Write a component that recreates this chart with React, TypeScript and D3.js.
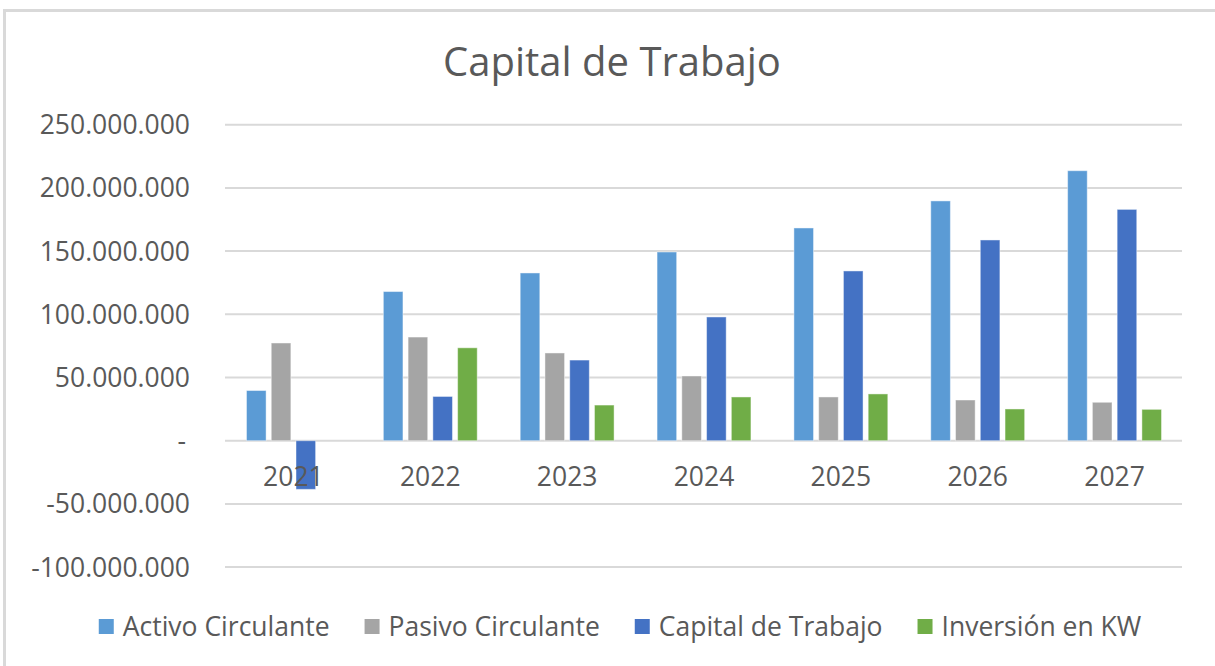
import React from "react";
import * as d3 from "d3";

const years = ["2021", "2022", "2023", "2024", "2025", "2026", "2027"];
const seriesNames = ["Activo Circulante", "Pasivo Circulante", "Capital de Trabajo", "Inversión en KW"];
const activo = [39.7e6, 118e6, 132.7e6, 149.3e6, 168.3e6, 189.7e6, 213.6e6];
const pasivo = [77.3e6, 82e6, 69.4e6, 51.2e6, 34.6e6, 32.2e6, 30.4e6];
const capital = [-38.5e6, 35e6, 63.8e6, 97.9e6, 134.3e6, 158.8e6, 183e6];
const inversion = [0, 73.5e6, 28.2e6, 34.6e6, 37e6, 25.1e6, 24.8e6];
const colors = ["#5B9BD5", "#A5A5A5", "#4472C4", "#70AD47"];
const tickValues = [250e6, 200e6, 150e6, 100e6, 50e6, 0, -50e6, -100e6];
const tickLabels = ["250.000.000", "200.000.000", "150.000.000", "100.000.000", "50.000.000", "-", "-50.000.000", "-100.000.000"];
const title = "Capital de Trabajo";

const W = 1215;
const H = 666;
const FONT = "'Open Sans', 'Noto Sans', sans-serif";
const TEXT = "#595959";
const GRID = "#d9d9d9";

function measure(text: string, size: number): number {
  const c = document.createElement("canvas");
  const ctx = c.getContext("2d");
  if (!ctx) return text.length * size * 0.5;
  ctx.font = `${size}px 'Open Sans'`;
  return ctx.measureText(text).width;
}

export default function App() {
  const values = [activo, pasivo, capital, inversion];
  const x0 = d3.scaleBand<string>().domain(years).range([225, 1183]).paddingInner(0.314).paddingOuter(0.157);
  const x1 = d3.scaleBand<string>().domain(seriesNames).range([0, x0.bandwidth()]).paddingInner(0.208).paddingOuter(0);
  const y = d3.scaleLinear().domain([-100e6, 250e6]).range([567.1, 124.7]);

  const legendSize = 26.5;
  const sq = 15;
  const sqGap = 9;
  const itemGap = 35;
  const widths = seriesNames.map((s) => measure(s, legendSize));
  const total = widths.reduce((a, w) => a + sq + sqGap + w, 0) + itemGap * (seriesNames.length - 1);
  let cursor = 620 - total / 2;
  const legendItems = seriesNames.map((s, i) => {
    const x = cursor;
    cursor += sq + sqGap + widths[i] + itemGap;
    return { s, x, color: colors[i] };
  });

  return (
    <svg width={W} height={H} style={{ position: "absolute", left: 0, top: 0, display: "block", background: "#fff" }} fontFamily={FONT}>
      <rect x={0} y={0} width={W} height={H} fill="#fff" />
      <rect x={4.5} y={10.5} width={W + 20} height={H + 20} fill="none" stroke={GRID} strokeWidth={3} />
      <text x={612} y={76} textAnchor="middle" fontSize={40} fill={TEXT}>{title}</text>
      {tickValues.map((v, i) => (
        <g key={v}>
          <line x1={225} x2={1182} y1={y(v)} y2={y(v)} stroke={GRID} strokeWidth={2} />
          <text x={i === 5 ? 186 : 190} y={y(v) + 9.5} textAnchor="end" fontSize={26.5} fill={TEXT}>{tickLabels[i]}</text>
        </g>
      ))}
      {years.map((yr, yi) => (
        <g key={yr} transform={`translate(${x0(yr)},0)`}>
          {seriesNames.map((s, si) => {
            const v = values[si][yi];
            if (v === 0) return null;
            const top = y(Math.max(0, v));
            const bottom = y(Math.min(0, v));
            return (
              <rect key={s} x={x1(s)} y={top} width={x1.bandwidth()} height={bottom - top} fill={colors[si]} stroke="#ffffff" strokeOpacity={0.45} strokeWidth={1} />
            );
          })}
        </g>
      ))}
      {years.map((yr) => (
        <text key={yr} x={(x0(yr) as number) + x0.bandwidth() / 2} y={486} textAnchor="middle" fontSize={26.5} fill={TEXT}>{yr}</text>
      ))}
      {legendItems.map((it) => (
        <g key={it.s}>
          <rect x={it.x} y={619} width={sq} height={sq} fill={it.color} />
          <text x={it.x + sq + sqGap} y={635.5} fontSize={legendSize} fill={TEXT}>{it.s}</text>
        </g>
      ))}
    </svg>
  );
}
